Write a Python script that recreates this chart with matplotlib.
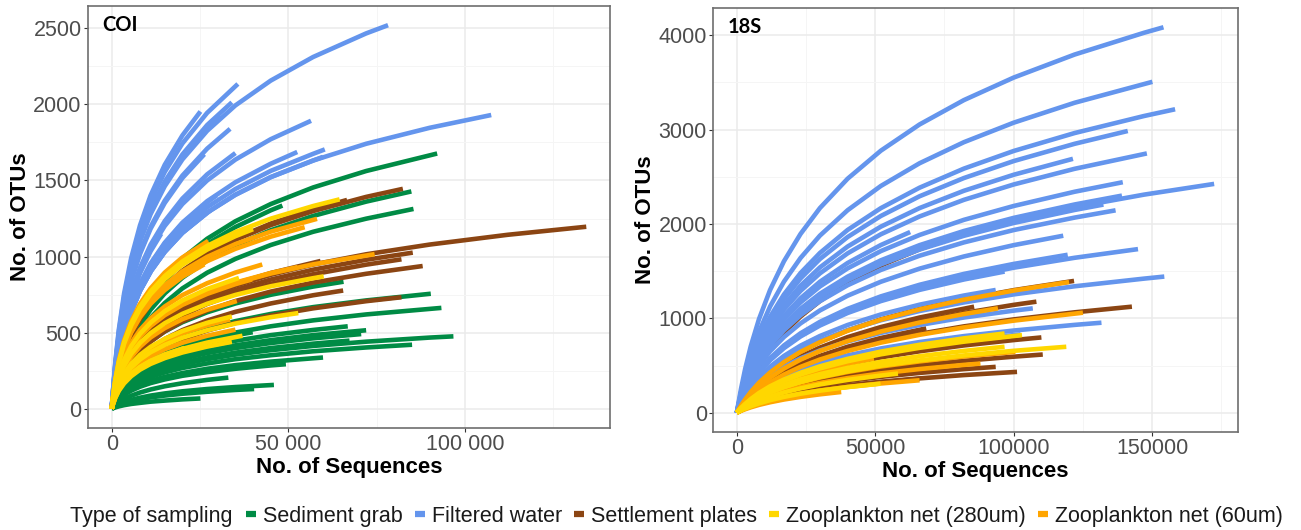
import matplotlib
matplotlib.use("Agg")
import matplotlib.pyplot as plt
from matplotlib.lines import Line2D
from matplotlib.ticker import MultipleLocator, FixedLocator, FixedFormatter

plt.rcParams['font.family'] = ['Liberation Sans', 'DejaVu Sans']

sampling_types = ["Sediment grab", "Filtered water", "Settlement plates",
                  "Zooplankton net (280um)", "Zooplankton net (60um)"]
sampling_colors = ["#008B45", "#6495ED", "#8B4513", "#FFD700", "#FFA500"]

# each curve: (total sequences, total OTUs, OTUs read at the grid depths below the total)
coi_grid = [0, 300, 1000, 2000, 3500, 5500, 8000, 11000, 15000, 20000, 27000,
            35000, 45000, 57000, 72000, 90000, 112000]

coi_sediment = [
    (92100, 1677, [0, 46, 140, 248, 375, 505, 630, 747, 869, 988, 1117, 1232, 1345, 1454, 1562]),
    (84800, 1428, [0, 40, 122, 216, 327, 440, 549, 651, 758, 861, 974, 1074, 1173, 1267, 1361]),
    (85400, 1313, [0, 37, 112, 198, 300, 404, 504, 598, 695, 791, 894, 985, 1076, 1163, 1249]),
    (48300, 1335, [0, 45, 135, 240, 363, 489, 611, 724, 843, 958, 1083, 1194, 1304]),
    (65600, 835, [0, 33, 96, 164, 240, 314, 382, 444, 508, 569, 634, 692, 749, 803]),
    (90300, 756, [0, 28, 80, 137, 200, 261, 317, 369, 422, 473, 528, 576, 623, 668, 712]),
    (93300, 663, [0, 24, 69, 119, 174, 227, 276, 321, 367, 411, 459, 501, 542, 581, 620]),
    (96700, 476, [0, 17, 49, 85, 124, 161, 196, 229, 261, 293, 326, 356, 385, 413, 441, 468]),
    (85000, 421, [0, 16, 45, 77, 113, 148, 180, 209, 239, 268, 298, 326, 352, 378, 403]),
    (72000, 516, [0, 20, 58, 99, 145, 189, 230, 268, 306, 343, 382, 417, 451, 484]),
    (70600, 491, [0, 19, 55, 95, 138, 181, 220, 256, 293, 328, 366, 399, 432, 463]),
    (66800, 542, [0, 21, 62, 106, 155, 203, 246, 287, 328, 367, 410, 447, 484, 518]),
    (39900, 503, [0, 23, 67, 115, 167, 219, 266, 310, 354, 397, 442, 483]),
    (33000, 205, [0, 8, 24, 42, 64, 86, 107, 127, 148, 168, 190]),
    (45900, 157, [0, 5, 16, 29, 44, 59, 73, 87, 101, 115, 130, 143]),
    (40300, 130, [0, 5, 14, 25, 38, 51, 63, 75, 87, 99, 112, 124]),
    (25100, 68, [0, 3, 9, 16, 24, 32, 39, 47, 54, 62]),
    (59800, 337, [0, 14, 40, 68, 99, 130, 158, 184, 210, 235, 263, 287, 310, 332]),
    (67300, 448, [0, 18, 51, 88, 128, 167, 203, 237, 270, 303, 338, 369, 399, 428]),
    (49300, 293, [0, 13, 37, 63, 91, 119, 145, 169, 193, 217, 241, 263, 285]),
]
coi_filtered = [
    (78200, 2520, [0, 96, 277, 473, 691, 903, 1099, 1279, 1462, 1638, 1826, 1993, 2156, 2311, 2466]),
    (35700, 2134, [0, 102, 294, 504, 736, 961, 1170, 1361, 1556, 1743, 1944]),
    (34000, 2013, [0, 98, 282, 483, 705, 921, 1121, 1305, 1492, 1671, 1864]),
    (25100, 1953, [0, 105, 303, 519, 758, 990, 1205, 1402, 1603, 1796]),
    (30500, 1930, [0, 97, 280, 480, 700, 915, 1113, 1295, 1481, 1659, 1850]),
    (33500, 1839, [0, 89, 259, 443, 647, 845, 1028, 1196, 1367, 1532, 1709]),
    (56400, 1892, [0, 79, 227, 389, 568, 742, 903, 1050, 1201, 1345, 1500, 1637, 1771]),
    (107400, 1930, [0, 67, 195, 334, 488, 637, 776, 902, 1031, 1156, 1289, 1406, 1522, 1631, 1741, 1846]),
    (35000, 1680, [0, 81, 233, 399, 583, 761, 927, 1078, 1233, 1381, 1540]),
    (52500, 1687, [0, 71, 207, 353, 516, 674, 821, 955, 1091, 1223, 1364, 1488, 1610]),
    (60300, 1704, [0, 69, 200, 343, 501, 654, 796, 927, 1059, 1187, 1324, 1444, 1563, 1675]),
    (59800, 1655, [0, 67, 195, 334, 488, 637, 776, 902, 1031, 1156, 1289, 1406, 1522, 1631]),
    (26200, 1672, [0, 88, 256, 438, 640, 836, 1017, 1183, 1352, 1516]),
    (29700, 1402, [0, 71, 205, 351, 513, 670, 816, 949, 1085, 1216, 1356]),
    (27900, 1303, [0, 67, 195, 334, 488, 637, 776, 902, 1031, 1156]),
    (14000, 1150, [0, 77, 224, 383, 560, 731, 890, 1035]),
    (11000, 900, [0, 67, 195, 333, 487, 636, 774]),
]
coi_plates = [
    (134300, 1196, [0, 34, 100, 176, 262, 348, 429, 504, 582, 657, 738, 809, 880, 948, 1015, 1079, 1143]),
    (82400, 1445, [0, 46, 138, 241, 359, 477, 588, 691, 798, 901, 1012, 1110, 1207, 1299, 1392]),
    (85200, 1026, [0, 33, 97, 170, 252, 335, 414, 486, 561, 634, 712, 781, 849, 914, 979]),
    (82000, 982, [0, 32, 94, 164, 244, 324, 400, 470, 543, 613, 689, 756, 821, 884, 947]),
    (88000, 938, [0, 30, 88, 154, 229, 304, 375, 441, 509, 574, 645, 708, 770, 829, 887]),
    (59100, 971, [0, 34, 102, 178, 265, 353, 435, 511, 590, 666, 748, 821, 892]),
    (65500, 777, [0, 27, 79, 138, 206, 274, 338, 397, 458, 517, 580, 637, 692, 746]),
    (82000, 733, [0, 24, 70, 122, 182, 242, 299, 351, 405, 457, 514, 564, 613, 660, 707]),
    (66600, 1372, [0, 47, 139, 243, 362, 481, 593, 697, 804, 908, 1020, 1119, 1217, 1310]),
]
coi_net280 = [
    (64500, 1376, [0, 66, 186, 308, 438, 560, 671, 771, 872, 968, 1070, 1161, 1249, 1332]),
    (60000, 870, [0, 43, 120, 198, 282, 361, 433, 497, 562, 624, 690, 748, 805, 858]),
    (52800, 629, [0, 32, 90, 148, 211, 270, 324, 372, 420, 467, 516, 560, 602]),
    (34000, 440, [0, 25, 71, 118, 167, 214, 257, 295, 333, 370, 409]),
    (34000, 607, [0, 35, 98, 162, 231, 295, 354, 407, 460, 511, 565]),
    (40000, 1180, [0, 65, 182, 301, 428, 547, 656, 753, 852, 946, 1046, 1134]),
    (36000, 860, [0, 49, 137, 226, 322, 411, 493, 566, 641, 712, 787]),
    (37000, 480, [0, 27, 76, 125, 178, 228, 273, 314, 355, 394, 435]),
    (20600, 400, [0, 27, 76, 126, 179, 229, 275, 315, 357]),
]
coi_net60 = [
    (58100, 1248, [0, 62, 173, 287, 408, 522, 626, 719, 813, 903, 998, 1082, 1164]),
    (54600, 1193, [0, 60, 168, 279, 397, 507, 608, 698, 790, 877, 970, 1051, 1131]),
    (74400, 1016, [0, 47, 132, 219, 312, 399, 478, 549, 621, 689, 762, 826, 889, 949]),
    (42600, 948, [0, 51, 143, 238, 338, 432, 518, 594, 672, 747, 825, 895]),
    (52600, 931, [0, 47, 133, 220, 313, 400, 479, 551, 623, 692, 765, 829, 892]),
    (39700, 850, [0, 47, 131, 217, 309, 395, 474, 544, 615, 683, 755, 819]),
    (35400, 708, [0, 40, 113, 187, 266, 340, 408, 469, 530, 589, 651]),
    (33500, 587, [0, 34, 95, 158, 224, 287, 344, 395, 447, 496, 548]),
    (27300, 1103, [0, 68, 191, 316, 449, 575, 689, 791, 895, 994]),
    (26200, 949, [0, 59, 166, 276, 392, 501, 601, 690, 780, 867]),
    (35000, 520, [0, 30, 83, 138, 196, 251, 301, 345, 391, 434, 480]),
]

s18_grid = [0, 500, 1500, 3000, 5000, 8000, 12000, 17000, 23000, 30000, 40000,
            52000, 66000, 82000, 100000, 122000, 147000, 170000]

s18_filtered = [
    (154100, 4085, [0, 90, 253, 465, 702, 993, 1301, 1605, 1895, 2169, 2480, 2777, 3055, 3313, 3552, 3796, 4026]),
    (150100, 3507, [0, 78, 219, 402, 608, 859, 1126, 1389, 1640, 1877, 2146, 2403, 2644, 2867, 3074, 3285]),
    (158300, 3216, [0, 70, 197, 363, 548, 775, 1016, 1253, 1480, 1693, 1937, 2168, 2385, 2587, 2774, 2964, 3144]),
    (141200, 2986, [0, 67, 190, 349, 527, 745, 977, 1205, 1423, 1629, 1862, 2085, 2294, 2487, 2667, 2850]),
    (148100, 2748, [0, 61, 172, 317, 478, 676, 886, 1093, 1291, 1477, 1689, 1891, 2080, 2256, 2419, 2585]),
    (121400, 2691, [0, 64, 179, 330, 499, 705, 924, 1140, 1346, 1540, 1761, 1972, 2169, 2352, 2522]),
    (139400, 2443, [0, 55, 156, 287, 433, 612, 803, 990, 1169, 1338, 1530, 1713, 1884, 2044, 2191, 2342]),
    (172400, 2425, [0, 52, 145, 267, 403, 570, 747, 921, 1088, 1245, 1423, 1594, 1753, 1901, 2038, 2178, 2311]),
    (139100, 2301, [0, 52, 147, 270, 408, 577, 757, 933, 1102, 1261, 1442, 1615, 1776, 1926, 2065, 2207]),
    (132400, 2206, [0, 51, 143, 263, 398, 562, 737, 909, 1073, 1228, 1404, 1572, 1729, 1875, 2011, 2149]),
    (136800, 2145, [0, 49, 138, 253, 383, 541, 709, 874, 1033, 1182, 1351, 1513, 1664, 1805, 1936, 2068]),
    (117900, 1876, [0, 45, 126, 232, 351, 496, 651, 802, 947, 1084, 1240, 1388, 1527, 1656, 1776]),
    (62600, 1915, [0, 58, 162, 298, 449, 635, 833, 1027, 1213, 1388, 1587, 1777]),
    (144900, 1734, [0, 39, 109, 201, 304, 429, 563, 694, 820, 938, 1073, 1201, 1321, 1433, 1537, 1642]),
    (119500, 1674, [0, 40, 112, 206, 312, 441, 578, 713, 842, 963, 1101, 1233, 1356, 1471, 1577]),
    (96700, 1496, [0, 38, 108, 198, 299, 423, 555, 684, 808, 924, 1057, 1183, 1302, 1412]),
    (154400, 1443, [0, 32, 89, 164, 248, 350, 459, 566, 669, 766, 875, 980, 1078, 1169, 1254, 1340, 1421]),
    (93500, 1301, [0, 34, 95, 174, 263, 372, 488, 602, 711, 813, 930, 1041, 1145, 1242]),
    (106900, 1106, [0, 27, 77, 142, 214, 302, 396, 489, 577, 660, 755, 846, 930, 1009, 1082]),
    (131700, 954, [0, 22, 62, 114, 172, 243, 319, 394, 465, 532, 608, 681, 749, 812, 871, 931]),
    (102500, 830, [0, 21, 59, 108, 163, 230, 301, 372, 439, 503, 575, 643, 708, 767]),
]
s18_plates = [
    (142700, 1124, [0, 20, 58, 108, 167, 242, 325, 409, 492, 571, 663, 752, 836, 915, 989, 1064]),
    (108200, 1177, [0, 23, 67, 125, 193, 280, 375, 473, 569, 660, 767, 870, 966, 1057, 1143]),
    (110000, 798, [0, 16, 45, 84, 130, 189, 253, 319, 383, 445, 517, 586, 651, 713, 770]),
    (110500, 617, [0, 12, 35, 65, 100, 146, 195, 246, 296, 344, 399, 452, 503, 550, 594]),
    (101200, 433, [0, 9, 25, 47, 73, 106, 142, 178, 215, 249, 289, 328, 364, 399]),
    (93500, 486, [0, 10, 29, 54, 84, 122, 164, 207, 248, 288, 335, 380, 422, 462]),
    (121800, 1397, [0, 26, 76, 142, 219, 319, 427, 538, 647, 751, 872, 989, 1099, 1202, 1299]),
    (85700, 1124, [0, 24, 70, 130, 202, 293, 392, 494, 594, 690, 801, 908, 1009]),
    (104000, 2080, [0, 42, 120, 224, 346, 503, 673, 849, 1020, 1184, 1375, 1560, 1733, 1896]),
    (68400, 894, [0, 21, 61, 114, 176, 255, 342, 431, 518, 602, 699, 792]),
    (66000, 360, [0, 9, 25, 47, 72, 104, 140, 176, 212, 246, 286, 324]),
]
s18_net280 = [
    (119000, 699, [0, 13, 38, 72, 111, 161, 215, 271, 326, 379, 440, 499, 554, 607, 656]),
    (96700, 840, [0, 17, 50, 93, 144, 209, 280, 352, 424, 492, 571, 648, 720, 788]),
    (103000, 823, [0, 17, 48, 89, 137, 200, 267, 337, 405, 470, 546, 619, 688, 753]),
    (96700, 699, [0, 14, 41, 77, 120, 174, 233, 293, 353, 409, 475, 539, 599, 655]),
    (58200, 415, [0, 11, 30, 57, 88, 127, 170, 215, 258, 300, 348, 394]),
    (48700, 486, [0, 13, 38, 72, 111, 161, 216, 273, 328, 381, 442]),
    (51900, 308, [0, 8, 24, 44, 68, 99, 133, 168, 202, 234, 272]),
]
s18_net60 = [
    (120000, 1385, [0, 26, 76, 141, 219, 318, 426, 536, 645, 748, 869, 986, 1095, 1198, 1295]),
    (125000, 1060, [0, 20, 57, 107, 165, 239, 321, 404, 486, 564, 655, 743, 826, 904, 976]),
    (94300, 1106, [0, 23, 66, 124, 191, 277, 372, 468, 563, 654, 759, 861, 956, 1046]),
    (100600, 645, [0, 13, 38, 70, 109, 158, 211, 267, 320, 372, 432, 490, 544, 596]),
    (49500, 574, [0, 16, 45, 84, 130, 189, 254, 320, 384, 446, 518]),
    (66000, 344, [0, 8, 24, 44, 69, 100, 134, 168, 203, 235, 273, 310]),
    (37700, 220, [0, 7, 20, 37, 57, 83, 111, 140, 168, 195]),
    (44000, 468, [0, 14, 39, 73, 112, 163, 219, 276, 331, 385, 447]),
    (88000, 521, [0, 11, 32, 60, 92, 134, 180, 227, 273, 316, 367, 417, 463, 507]),
]

coi_xticks = [0, 50000, 100000]
coi_xtick_labels = ["0", "50 000", "100 000"]
coi_yticks = [0, 500, 1000, 1500, 2000, 2500]
s18_xticks = [0, 50000, 100000, 150000]
s18_xtick_labels = ["0", "50000", "100000", "150000"]
s18_yticks = [0, 1000, 2000, 3000, 4000]

COLOR = dict(zip(sampling_types, sampling_colors))


def draw_curves(ax, grid, curves, color):
    for end_seqs, end_otus, otus in curves:
        xs = grid[:len(otus)] + [end_seqs]
        ys = otus + [end_otus]
        ax.plot(xs, ys, color=color, lw=3.3, solid_capstyle='butt',
                solid_joinstyle='round')


def style_axes(ax, groups, xticks, xlabels, yticks, panel):
    xmax = max(c[0] for g in groups for c in g)
    ymax = max(c[1] for g in groups for c in g)
    ax.set_xlim(-0.05 * xmax, 1.05 * xmax)
    ax.set_ylim(-0.05 * ymax, 1.05 * ymax)
    ax.xaxis.set_major_locator(FixedLocator(xticks))
    ax.xaxis.set_major_formatter(FixedFormatter(xlabels))
    ax.yaxis.set_major_locator(FixedLocator(yticks))
    ax.xaxis.set_minor_locator(MultipleLocator((xticks[1] - xticks[0]) / 2))
    ax.yaxis.set_minor_locator(MultipleLocator((yticks[1] - yticks[0]) / 2))
    ax.grid(which='major', color='#EBEBEB', lw=1.1)
    ax.grid(which='minor', color='#F5F5F5', lw=0.7)
    ax.set_axisbelow(True)
    for s in ax.spines.values():
        s.set_color('#6E6E6E')
        s.set_linewidth(1.2)
    ax.tick_params(which='major', length=3, width=0.8, color='#333333',
                   labelsize=15.5, labelcolor='#4D4D4D', pad=1.5)
    ax.tick_params(which='minor', length=0)
    ax.set_xlabel("No. of Sequences", fontsize=16, fontweight='bold', labelpad=1)
    ax.set_ylabel("No. of OTUs", fontsize=16, fontweight='bold', labelpad=2)
    ax.text(0.027, 0.941, panel, transform=ax.transAxes, fontsize=14.5,
            fontweight='bold', family=['Lato', 'DejaVu Sans'], va='baseline')


fig = plt.figure(figsize=(13.01, 5.30), dpi=100)
ax1 = fig.add_axes([88 / 1301, 102 / 530, 522 / 1301, 422 / 530])
ax2 = fig.add_axes([713 / 1301, 98 / 530, 525 / 1301, 424 / 530])

draw_curves(ax1, coi_grid, coi_sediment, COLOR["Sediment grab"])
draw_curves(ax1, coi_grid, coi_filtered, COLOR["Filtered water"])
draw_curves(ax1, coi_grid, coi_plates, COLOR["Settlement plates"])
draw_curves(ax1, coi_grid, coi_net60, COLOR["Zooplankton net (60um)"])
draw_curves(ax1, coi_grid, coi_net280, COLOR["Zooplankton net (280um)"])
style_axes(ax1, [coi_sediment, coi_filtered, coi_plates, coi_net60, coi_net280],
           coi_xticks, coi_xtick_labels, coi_yticks, "COI")

draw_curves(ax2, s18_grid, s18_plates, COLOR["Settlement plates"])
draw_curves(ax2, s18_grid, s18_filtered, COLOR["Filtered water"])
draw_curves(ax2, s18_grid, s18_net60, COLOR["Zooplankton net (60um)"])
draw_curves(ax2, s18_grid, s18_net280, COLOR["Zooplankton net (280um)"])
style_axes(ax2, [s18_filtered, s18_plates, s18_net60, s18_net280],
           s18_xticks, s18_xtick_labels, s18_yticks, "18S")

handles = [Line2D([0], [0], color=c, lw=4.5, solid_capstyle='butt') for c in sampling_colors]
fig.text(70 / 1301, 0.026, "Type of sampling", fontsize=15.5, color='#1A1A1A', va='center')
fig.legend(handles, sampling_types, loc='center left', bbox_to_anchor=(246 / 1301, 0.026),
           ncol=5, frameon=False, fontsize=15.5, handlelength=0.45, handletextpad=0.35,
           columnspacing=0.55, borderpad=0, borderaxespad=0, labelcolor='#1A1A1A')

fig.savefig("out.png", dpi=100)
